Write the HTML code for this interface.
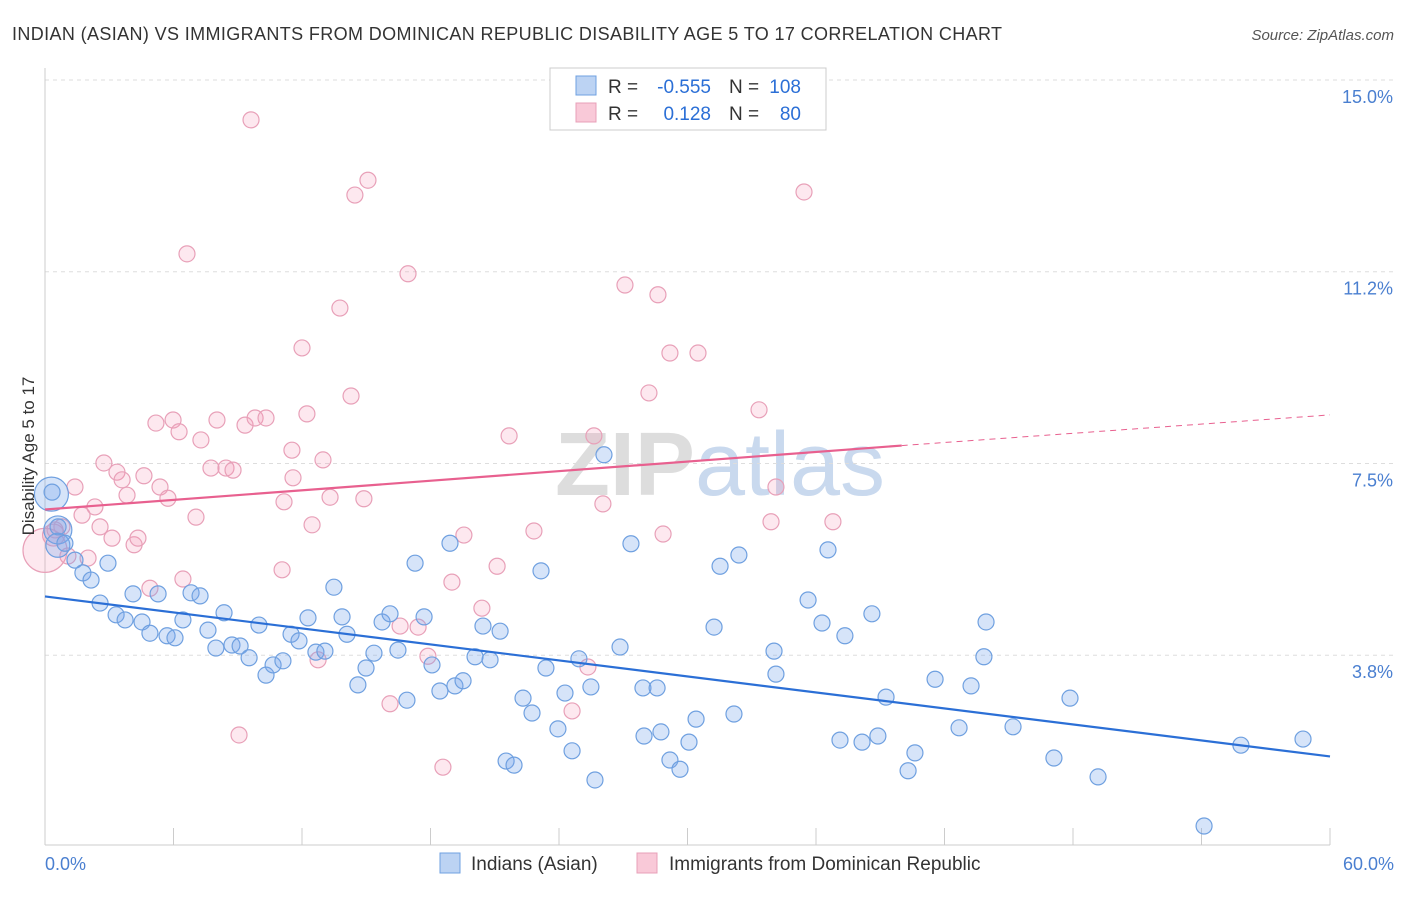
<!DOCTYPE html>
<html><head><meta charset="utf-8"><style>
body{margin:0;background:#fff;font-family:"Liberation Sans",sans-serif;}
svg text{font-family:"Liberation Sans",sans-serif;}
</style></head><body>
<svg id="c" width="1406" height="892" xmlns="http://www.w3.org/2000/svg">
<text x="12" y="40" font-size="18" fill="#333" textLength="990" lengthAdjust="spacing">INDIAN (ASIAN) VS IMMIGRANTS FROM DOMINICAN REPUBLIC DISABILITY AGE 5 TO 17 CORRELATION CHART</text>
<text x="1394" y="40" font-size="15" fill="#555" text-anchor="end" font-style="italic">Source: ZipAtlas.com</text>
<text x="720" y="495" font-size="90" fill="#ddd" text-anchor="middle" font-weight="bold">ZIP<tspan fill="#c9d9ee" font-weight="normal">atlas</tspan></text>
<g id="grid"></g>
<g id="marks"></g>
<text transform="translate(34,456) rotate(-90)" font-size="17" fill="#333" text-anchor="middle">Disability Age 5 to 17</text>
<g>
<rect x="550" y="68" width="276" height="62" fill="#fff" stroke="#ccc"/>
<rect x="576" y="76" width="20" height="19" fill="#bcd3f3" stroke="#6fa0e0"/>
<rect x="576" y="103" width="20" height="19" fill="#f9c9d8" stroke="#e8a0b8"/>
<text x="608" y="93" font-size="19" fill="#333">R =</text>
<text x="711" y="93" font-size="19" fill="#2b6fd6" text-anchor="end">-0.555</text>
<text x="729" y="93" font-size="19" fill="#333">N =</text>
<text x="801" y="93" font-size="19" fill="#2b6fd6" text-anchor="end">108</text>
<text x="608" y="120" font-size="19" fill="#333">R =</text>
<text x="711" y="120" font-size="19" fill="#2b6fd6" text-anchor="end">0.128</text>
<text x="729" y="120" font-size="19" fill="#333">N =</text>
<text x="801" y="120" font-size="19" fill="#2b6fd6" text-anchor="end">80</text>
</g>
<g>
<rect x="440" y="853" width="20" height="20" fill="#bcd3f3" stroke="#6fa0e0"/>
<text x="471" y="870" font-size="19" fill="#333">Indians (Asian)</text>
<rect x="637" y="853" width="20" height="20" fill="#f9c9d8" stroke="#e8a0b8"/>
<text x="669" y="870" font-size="19" fill="#333">Immigrants from Dominican Republic</text>
</g>
</svg>
<script>
const xTicks=[0,60];
const yTicks=[15,11.25,7.5,3.75];
const yTickLabels=["15.0%","11.2%","7.5%","3.8%"];
const bluePx=[[52,492],[58,527],[65,543],[75,560],[83,573],[91,580],[100,603],[108,563],[116,615],[125,620],[133,594],[142,622],[150,633],[158,594],[167,636],[175,638],[183,620],[191,593],[200,596],[208,630],[216,648],[224,613],[232,645],[240,646],[249,658],[259,625],[266,675],[273,665],[283,661],[291,634],[299,641],[308,618],[316,652],[325,651],[334,587],[342,617],[347,634],[358,685],[366,668],[374,653],[382,622],[390,614],[398,650],[407,700],[415,563],[424,617],[432,665],[440,691],[450,543],[455,686],[463,681],[475,657],[483,626],[490,660],[500,631],[506,761],[514,765],[523,698],[532,713],[541,571],[546,668],[558,729],[565,693],[572,751],[579,659],[591,687],[595,780],[604,455],[620,647],[631,544],[643,688],[644,736],[657,688],[661,732],[670,760],[680,769],[689,742],[696,719],[714,627],[720,566],[734,714],[739,555],[774,651],[776,674],[808,600],[822,623],[828,550],[840,740],[845,636],[862,742],[872,614],[878,736],[886,697],[908,771],[915,753],[935,679],[959,728],[971,686],[984,657],[986,622],[1013,727],[1054,758],[1070,698],[1098,777],[1204,826],[1241,745],[1303,739]];
const pinkPx=[[55,530],[62,527],[68,556],[75,487],[82,515],[88,558],[95,507],[100,527],[104,463],[112,538],[117,472],[122,480],[127,495],[134,545],[138,538],[144,476],[150,588],[156,423],[160,487],[168,498],[173,420],[179,432],[183,579],[187,254],[196,517],[201,440],[211,468],[217,420],[226,468],[233,470],[239,735],[245,425],[251,120],[255,418],[266,418],[282,570],[284,502],[292,450],[293,478],[302,348],[307,414],[312,525],[318,660],[323,460],[330,497],[340,308],[351,396],[355,195],[364,499],[368,180],[390,704],[400,626],[408,274],[418,627],[428,656],[443,767],[452,582],[464,535],[482,608],[497,566],[509,436],[534,531],[572,711],[588,667],[594,436],[603,504],[625,285],[649,393],[658,295],[663,534],[670,353],[698,353],[759,410],[771,522],[776,487],[804,192],[833,522]];
const blueX=bluePx.map(p=>+((p[0]-45)/1285*60).toFixed(2));
const blueY=bluePx.map(p=>+(15-(p[1]-80)/51.13).toFixed(2));
const pinkX=pinkPx.map(p=>+((p[0]-45)/1285*60).toFixed(2));
const pinkY=pinkPx.map(p=>+(15-(p[1]-80)/51.13).toFixed(2));
const blueBig=[[0.3,6.9,17],[0.6,6.2,14],[0.6,5.9,12]];
const pinkBig=[[0,5.8,22],[0.4,6.1,11]];
const blueTrend=[[0,4.9],[60,1.77]];
const pinkTrend=[[0,6.6],[40,7.85],[60,8.45]];

const X=v=>45+v/60*1285, Y=v=>80+(15-v)*51.13;
const NS="http://www.w3.org/2000/svg";
const grid=document.getElementById('grid'), marks=document.getElementById('marks');
function mk(tag,attrs,parent){const e=document.createElementNS(NS,tag);for(const k in attrs)e.setAttribute(k,attrs[k]);parent.appendChild(e);return e;}
yTicks.forEach((t,i)=>{
 const g=mk('line',{x1:45,x2:1394,y1:Y(t),y2:Y(t),stroke:'#ddd','stroke-dasharray':'4,4'},grid);
 
 
 const tx=mk('text',{x:1393,y:Y(t)+23,'font-size':18,fill:'#4a7fd0','text-anchor':'end'},grid);
 tx.textContent=yTickLabels[i];
 
 
});
const ax=mk('line',{x1:45,x2:45,y1:68,y2:845,stroke:'#ccc'},grid);


const bx=mk('line',{x1:45,x2:1330,y1:845,y2:845,stroke:'#ccc'},grid);


for(let i=0;i<=10;i++){const l=mk('line',{x1:X(i*6),x2:X(i*6),y1:828,y2:845,stroke:'#ccc'},grid);
 
 }
xTicks.forEach((t,i)=>{const tx=mk('text',{x:i?1394:45,y:870,'font-size':18,fill:'#4a7fd0','text-anchor':i?'end':'start'},grid);
 tx.textContent=t.toFixed(1)+'%';
 
 });
function dot(x,y,r,cls){const c=mk('circle',{cx:X(x),cy:Y(y),r:r,fill:cls=='b'?'rgba(120,165,235,0.3)':'rgba(245,150,180,0.22)',stroke:cls=='b'?'#6fa0e0':'#e8a0b8','stroke-width':1.2},marks);
 
 }
pinkBig.forEach(p=>dot(p[0],p[1],p[2],'p'));
pinkX.forEach((x,i)=>dot(x,pinkY[i],8,'p'));
blueBig.forEach(p=>dot(p[0],p[1],p[2],'b'));
blueX.forEach((x,i)=>dot(x,blueY[i],8,'b'));
const bl=mk('line',{x1:X(blueTrend[0][0]),y1:Y(blueTrend[0][1]),x2:X(blueTrend[1][0]),y2:Y(blueTrend[1][1]),stroke:'#2b6fd6','stroke-width':2.2},marks);


const pl=mk('line',{x1:X(pinkTrend[0][0]),y1:Y(pinkTrend[0][1]),x2:X(pinkTrend[1][0]),y2:Y(pinkTrend[1][1]),stroke:'#e8608f','stroke-width':2.2},marks);


const pd=mk('line',{x1:X(pinkTrend[1][0]),y1:Y(pinkTrend[1][1]),x2:X(pinkTrend[2][0]),y2:Y(pinkTrend[2][1]),stroke:'#e8608f','stroke-width':1,'stroke-dasharray':'6,5'},marks);


</script>
</body></html>
